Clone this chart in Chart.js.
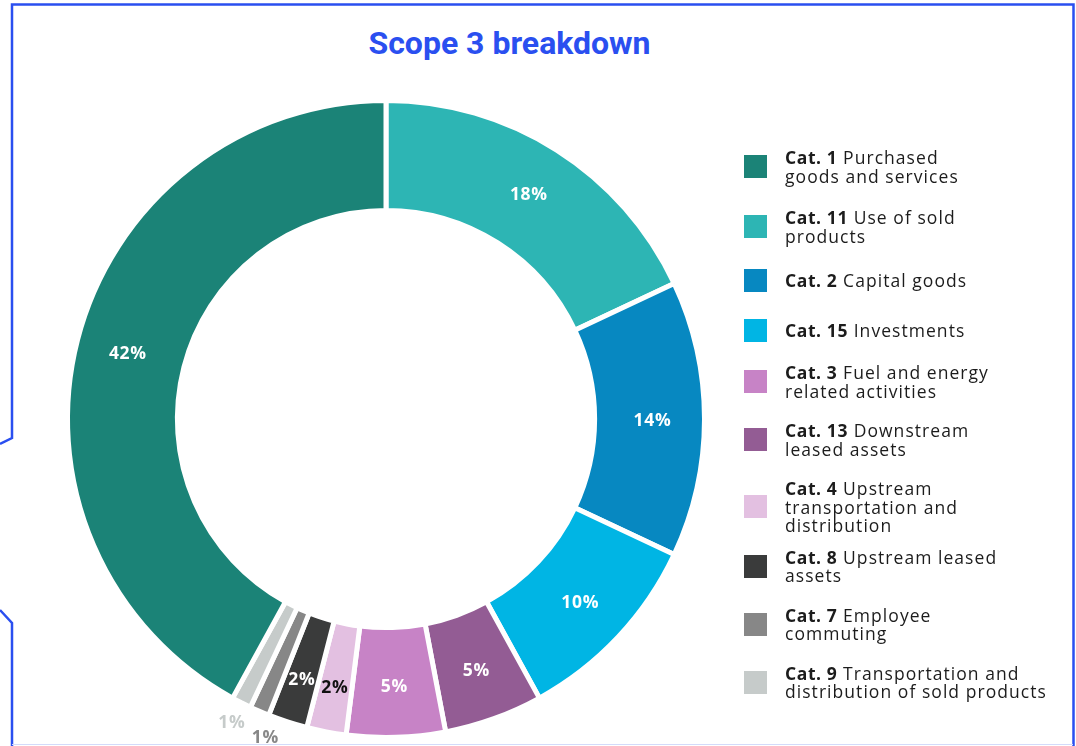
<!DOCTYPE html>
<html>
<head>
<meta charset="utf-8">
<title>Scope 3 breakdown</title>
<script src="https://cdn.jsdelivr.net/npm/chart.js@4.4.1/dist/chart.umd.min.js"></script>
<style>
  html, body { margin: 0; padding: 0; background: #ffffff; }
  #stage { position: relative; width: 1076px; height: 746px; overflow: hidden; background: #ffffff; }
  #frame { position: absolute; left: 0; top: 0; }
  #title {
    position: absolute; left: 0; top: 24px; width: 1019px; text-align: center;
    font-family: Roboto, "Liberation Sans", sans-serif; font-weight: 700; font-size: 32px;
    color: #2a4ff0;
  }
  #chartBox { position: absolute; left: 0; top: 0; width: 1076px; height: 746px; }
  #legend {
    position: absolute; left: 744px; top: 148px; width: 330px; margin: 0; padding: 0; list-style: none;
    font-family: "Open Sans", "DejaVu Sans", sans-serif; font-size: 17.5px; line-height: 18.5px;
    letter-spacing: 1.05px; color: #1c1c1c;
  }
  #legend li { display: flex; align-items: center; min-height: 29px; margin-bottom: 21px; }
  #legend li:nth-child(1) { margin-bottom: 23px; }
  #legend li:nth-child(4) { margin-bottom: 18px; }
  #legend li:nth-child(7) { margin-bottom: 13px; }
  #legend .sw { flex: 0 0 23px; height: 23px; margin-right: 18px; }
  #legend b { font-weight: 700; letter-spacing: 0.6px; }
</style>
</head>
<body>
<div id="stage">
  <svg id="frame" width="1076" height="746">
    <polyline points="0,444 12,438 12,4.5 1073.5,4.5 1073.5,746" fill="none" stroke="#2a4ff0" stroke-width="2.5"/>
    <polyline points="0,610 12,623 12,746" fill="none" stroke="#2a4ff0" stroke-width="2.5"/>
    <line x1="12" y1="744.5" x2="1073" y2="744.5" stroke="#d3dbfa" stroke-width="1"/>
  </svg>
  <div id="title">Scope 3 breakdown</div>
  <div id="chartBox"><canvas id="chart" width="1076" height="746"></canvas></div>
  <ul id="legend"></ul>
</div>
<script>
// Scope 3 categories, in ring order (clockwise from 12 o'clock)
const categories = ['Cat. 11', 'Cat. 2', 'Cat. 15', 'Cat. 13', 'Cat. 3', 'Cat. 4', 'Cat. 8', 'Cat. 7', 'Cat. 9', 'Cat. 1'];
const descriptions = [
  'Use of sold<br>products',
  'Capital goods',
  'Investments',
  'Downstream<br>leased assets',
  'Fuel and energy<br>related activities',
  'Upstream<br>transportation and<br>distribution',
  'Upstream leased<br>assets',
  'Employee<br>commuting',
  'Transportation and<br>distribution of sold products',
  'Purchased<br>goods and services'
];
// Share of total Scope 3 emissions, %
const shares = [18, 14, 10, 5, 5, 2, 2, 1, 1, 42];
const colors = ['#2db5b4', '#0788c1', '#00b5e4', '#935c94', '#c783c6', '#e3c0e1', '#3a3b3b', '#878787', '#c6cbca', '#1b8377'];
// Legend reads by category number grouping
const legendOrder = ['Cat. 1', 'Cat. 11', 'Cat. 2', 'Cat. 15', 'Cat. 3', 'Cat. 13', 'Cat. 4', 'Cat. 8', 'Cat. 7', 'Cat. 9'];

// Percent labels: inside the ring for larger slices, outside for the tiny ones
const sliceLabels = {
  id: 'sliceLabels',
  afterDatasetsDraw(chart) {
    const ctx = chart.ctx;
    const meta = chart.getDatasetMeta(0);
    const outside = [];
    ctx.save();
    ctx.font = '700 17.5px "Open Sans", sans-serif';
    if ('letterSpacing' in ctx) ctx.letterSpacing = '0.7px';
    ctx.textAlign = 'center';
    ctx.textBaseline = 'alphabetic';
    const lift = 6.5; // half the cap height, so digits sit centred on the point
    meta.data.forEach((arc, i) => {
      const p = arc.getProps(['x', 'y', 'startAngle', 'endAngle', 'innerRadius', 'outerRadius'], true);
      const mid = (p.startAngle + p.endAngle) / 2;
      const v = shares[i];
      if (v <= 1) {
        outside.push({ i, p, mid });
        return;
      }
      const r = (p.innerRadius + p.outerRadius) / 2 + (v <= 2 ? 9 : 3);
      ctx.fillStyle = categories[i] === 'Cat. 4' ? '#111111' : '#ffffff';
      ctx.fillText(v + '%', p.x + Math.cos(mid) * r, p.y + Math.sin(mid) * r + lift);
    });
    // keep neighbouring outside labels apart
    const minSep = 6.2 * Math.PI / 180;
    for (let k = outside.length - 2; k >= 0; k--) {
      const gap = outside[k + 1].mid - outside[k].mid;
      if (gap < minSep) outside[k].mid = outside[k + 1].mid - minSep;
    }
    outside.forEach(o => {
      const r = o.p.outerRadius + 21;
      ctx.fillStyle = colors[o.i];
      ctx.fillText(shares[o.i] + '%', o.p.x + Math.cos(o.mid) * r, o.p.y + Math.sin(o.mid) * r + lift);
    });
    ctx.restore();
  }
};

new Chart(document.getElementById('chart'), {
  type: 'doughnut',
  data: {
    labels: categories,
    datasets: [{
      data: shares,
      backgroundColor: colors,
      borderColor: '#ffffff',
      borderWidth: 5,
      hoverOffset: 0,
      hoverBorderWidth: 5
    }]
  },
  options: {
    responsive: false,
    animation: false,
    events: [],
    cutout: '65.5%',
    layout: { padding: { left: 65, top: 98, right: 369, bottom: 6 } },
    plugins: { legend: { display: false }, title: { display: false }, tooltip: { enabled: false } }
  },
  plugins: [sliceLabels]
});

// HTML legend with bold category numbers
const legendEl = document.getElementById('legend');
legendOrder.forEach(cat => {
  const i = categories.indexOf(cat);
  const li = document.createElement('li');
  li.innerHTML = '<span class="sw" style="background:' + colors[i] + '"></span><span><b>' + cat + '</b> ' + descriptions[i] + '</span>';
  legendEl.appendChild(li);
});
</script>
</body>
</html>
